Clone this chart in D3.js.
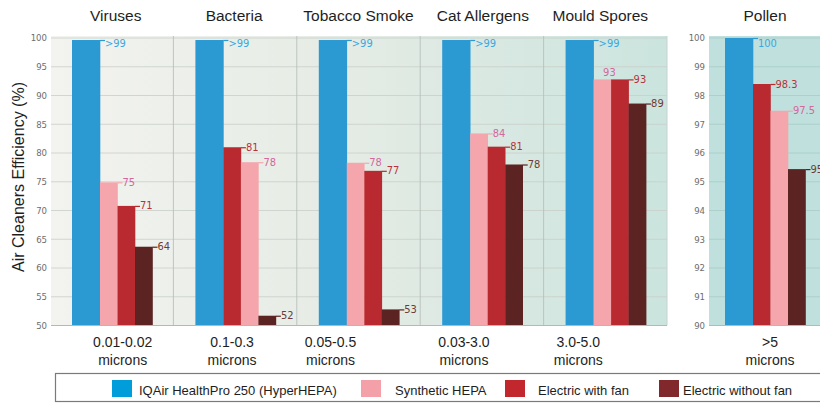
<!DOCTYPE html>
<html><head><meta charset="utf-8">
<script src="https://cdn.jsdelivr.net/npm/d3@7/dist/d3.min.js"></script>
<style>
body{margin:0;background:#fff;}
svg{display:block;font-family:"Liberation Sans",Arial,Helvetica,sans-serif;}
</style></head>
<body><svg id="c" width="820" height="403"></svg>
<script>
// ---- data ----
const categories = ["Viruses","Bacteria","Tobacco Smoke","Cat Allergens","Mould Spores","Pollen"];
const sizeLine1 = ["0.01-0.02","0.1-0.3","0.05-0.5","0.03-3.0","3.0-5.0",">5"];
const sizeLine2 = ["microns","microns","microns","microns","microns","microns"];
const seriesNames = ["IQAir HealthPro 250 (HyperHEPA)","Synthetic HEPA","Electric with fan","Electric without fan"];
const hyperVals  = [99.65, 99.65, 99.65, 99.65, 99.65, 100];
const hyperLbls  = [">99", ">99", ">99", ">99", ">99", "100"];
const synthVals  = [74.9, 78.4, 78.3, 83.4, 92.8, 97.47];
const synthLbls  = ["75", "78", "78", "84", "93", "97.5"];
const fanVals    = [70.8, 81.0, 76.9, 81.1, 92.8, 98.4];
const fanLbls    = ["71", "81", "77", "81", "93", "98.3"];
const noFanVals  = [63.7, 51.7, 52.8, 78.0, 88.6, 95.44];
const noFanLbls  = ["64", "52", "53", "78", "89", "95.5"];
const mainTicks  = [50,55,60,65,70,75,80,85,90,95,100];
const pollenTicks= [90,91,92,93,94,95,96,97,98,99,100];

// ---- style ----
const barColors = ["#2b9ad3","#f5a6ad","#b92a30","#5c2323"];
const lblColors = ["#3aa8e0","#d4679c","#b8323a","#6e3a32"];
const legColors = ["#009ddb","#f4a0a8","#c1272d","#80282c"];
const subShift  = [11,-3,-28,-18,-27,5];

const svg = d3.select("#c");
const defs = svg.append("defs");
const grad = defs.append("linearGradient").attr("id","bg").attr("x1","0").attr("x2","1").attr("y1","0").attr("y2","0");
grad.append("stop").attr("offset","0").attr("stop-color","#f3f3ef");
grad.append("stop").attr("offset","0.45").attr("stop-color","#e6ece5");
grad.append("stop").attr("offset","1").attr("stop-color","#cbe4de");
defs.append("clipPath").attr("id","clipAll").append("rect").attr("x",0).attr("y",0).attr("width",820).attr("height",403);

const plotTop = 38, plotBottom = 325.5;
const mainL = 51, mainR = 667;
const yMain = d3.scaleLinear().domain([50,100]).range([plotBottom, plotTop]);
const yPol  = d3.scaleLinear().domain([90,100]).range([plotBottom, plotTop]);

const mainCats = categories.slice(0,5);
const xMain = d3.scaleBand().domain(mainCats).range([50, 667]);
const xPol  = d3.scaleBand().domain([categories[5]]).range([703, 826.4]);

// backgrounds
svg.append("rect").attr("x",mainL).attr("y",36).attr("width",mainR-mainL).attr("height",plotBottom-36).attr("fill","url(#bg)");
svg.append("rect").attr("x",709).attr("y",36).attr("width",120).attr("height",plotBottom-36).attr("fill","#bfe0dc");

// grids
const g = svg.append("g");
g.selectAll(".hg").data(mainTicks).join("line")
  .attr("x1",mainL).attr("x2",mainR).attr("y1",d=>yMain(d)).attr("y2",d=>yMain(d))
  .attr("stroke","#c9cec9").attr("stroke-width",0.8);
g.selectAll(".vg").data(mainCats.slice(1)).join("line")
  .attr("x1",d=>xMain(d)).attr("x2",d=>xMain(d)).attr("y1",36).attr("y2",plotBottom)
  .attr("stroke","#b9bfba").attr("stroke-width",0.9);
g.append("line").attr("x1",mainR).attr("x2",mainR).attr("y1",36).attr("y2",plotBottom).attr("stroke","#c4d3cf");
g.selectAll(".pg").data(pollenTicks).join("line")
  .attr("x1",709).attr("x2",820).attr("y1",d=>yPol(d)).attr("y2",d=>yPol(d))
  .attr("stroke","#a9cbc7").attr("stroke-width",0.8);

// y tick labels
svg.append("g").selectAll("text").data(mainTicks).join("text")
  .attr("x",47).attr("y",d=>yMain(d)).attr("dy","0.35em").attr("text-anchor","end")
  .attr("font-size",9.5).attr("fill","#6d6d6d").attr("font-family","'DejaVu Sans Condensed','Liberation Sans Narrow',sans-serif")
  .text(d=>d);
svg.append("g").selectAll("text").data(pollenTicks).join("text")
  .attr("x",705).attr("y",d=>yPol(d)).attr("dy","0.35em").attr("text-anchor","end")
  .attr("font-size",9.5).attr("fill","#6d6d6d").attr("font-family","'DejaVu Sans Condensed','Liberation Sans Narrow',sans-serif")
  .text(d=>d);

// bars
const allVals = [hyperVals, synthVals, fanVals, noFanVals];
const allLbls = [hyperLbls, synthLbls, fanLbls, noFanLbls];
const widthsRatio = [1.6,1,1,1];
const groupW = 80.5, groupOff = 22;
const unit = groupW / d3.sum(widthsRatio);

const barsG = svg.append("g").attr("clip-path","url(#clipAll)");
categories.forEach((cat, ci) => {
  const isPol = ci === 5;
  const xs = isPol ? xPol : xMain;
  const ys = isPol ? yPol : yMain;
  const items = [0,1,2,3].map(si => ({si, v: allVals[si][ci], lbl: allLbls[si][ci]}));
  const ordered = items.slice().sort((a,b)=> d3.descending(a.v,b.v) || a.si-b.si);
  let x = xs(cat) + groupOff;
  ordered.forEach((it, k) => {
    const w = widthsRatio[it.si]*unit;
    const yt = ys(it.v);
    barsG.append("rect").attr("x",x).attr("y",yt).attr("width",w+0.3).attr("height",plotBottom-yt)
      .attr("fill",barColors[it.si]);
    const next = ordered[k+1];
    const blocked = next && next.v >= it.v - 0.3;
    if (blocked) {
      barsG.append("text").attr("x",x+w-8).attr("y",yt-3)
        .attr("font-size",11).attr("fill",lblColors[it.si])
        .attr("font-family","'DejaVu Sans Condensed','Liberation Sans Narrow',sans-serif")
        .text(it.lbl);
    } else {
      barsG.append("line").attr("x1",x+w).attr("x2",x+w+5).attr("y1",yt+0.5).attr("y2",yt+0.5)
        .attr("stroke",barColors[it.si]).attr("stroke-width",1.2);
      barsG.append("text").attr("x",x+w+5).attr("y",Math.max(yt+3.5,47))
        .attr("font-size",11).attr("fill",lblColors[it.si])
        .attr("font-family","'DejaVu Sans Condensed','Liberation Sans Narrow',sans-serif")
        .text(it.lbl);
    }
    x += w;
  });
});

// baseline
svg.append("line").attr("x1",mainL).attr("x2",mainR).attr("y1",plotBottom).attr("y2",plotBottom).attr("stroke","#b5b9b5");
svg.append("line").attr("x1",709).attr("x2",820).attr("y1",plotBottom).attr("y2",plotBottom).attr("stroke","#a9bfbc");

// titles
const bandC = (c,i) => i===5 ? 765 : xMain(c)+xMain.bandwidth()/2 + [4,-1,0,1,-5][i];
svg.append("g").selectAll("text").data(categories).join("text")
  .attr("x",(d,i)=>bandC(d,i)).attr("y",21).attr("text-anchor","middle")
  .attr("font-size",15.5).attr("fill","#1e1e1e").text(d=>d);

// size labels
const subC = (c,i) => (i===5 ? 765 : xMain(c)+xMain.bandwidth()/2) + subShift[i];
svg.append("g").selectAll("text").data(categories).join("text")
  .attr("x",(d,i)=>subC(d,i)).attr("y",347).attr("text-anchor","middle")
  .attr("font-size",14).attr("fill","#1e1e1e").text((d,i)=>sizeLine1[i]);
svg.append("g").selectAll("text").data(categories).join("text")
  .attr("x",(d,i)=>subC(d,i)).attr("y",364.5).attr("text-anchor","middle")
  .attr("font-size",14).attr("fill","#1e1e1e").text((d,i)=>sizeLine2[i]);

// y title
svg.append("text").attr("transform","translate(24,177) rotate(-90)").attr("text-anchor","middle")
  .attr("font-size",16).attr("fill","#1e1e1e").text("Air Cleaners Efficiency (%)");

// legend
svg.append("rect").attr("x",55.5).attr("y",373.5).attr("width",800).attr("height",28)
  .attr("fill","#fff").attr("stroke","#7a7a7a").attr("stroke-width",1.2);
const legX = [112,361,505,659];
const leg = svg.append("g").selectAll("g").data(seriesNames).join("g")
  .attr("transform",(d,i)=>`translate(${legX[i]},380)`);
leg.append("rect").attr("width",20).attr("height",17).attr("fill",(d,i)=>legColors[i]);
leg.append("text").attr("x",(d,i)=>[27,34,33,24][i]).attr("y",15).attr("font-size",13).attr("fill","#1e1e1e").text(d=>d);
</script></body></html>
